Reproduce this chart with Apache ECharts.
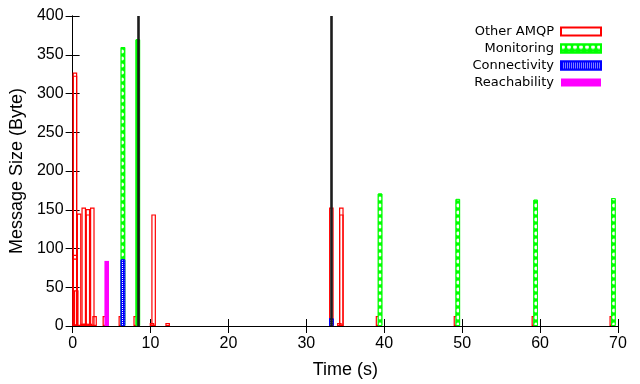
<!DOCTYPE html>
<html><head><meta charset="utf-8">
<script src="https://cdn.jsdelivr.net/npm/echarts@6/dist/echarts.min.js"></script>
<style>html,body{margin:0;padding:0;background:#fff}#c{width:640px;height:384px}</style>
</head><body><div id="c"></div>
<script>
// ---- data (time in s, size in bytes) ----
const seriesNames = ['Other AMQP', 'Monitoring', 'Connectivity', 'Reachability'];
const amqpTime = [0.3, 0.3, 0.3, 0.3, 0.47, 0.83, 1.3, 1.43, 1.65, 1.96, 1.96, 2.2, 2.53, 2.82, 4.14, 6.19, 8.1, 10.19, 10.4, 12.2, 33.21, 34.24, 34.49, 34.49, 39.2, 49.2, 59.2, 69.2];
const amqpSize = [327, 323, 92, 87, 46, 145, 3, 153, 3, 151, 144, 3, 153, 13, 13, 13, 13, 4, 144, 4, 153, 4, 153, 144, 13, 13, 13, 13];
const monitoringTime = [6.46, 8.37, 39.46, 49.44, 59.43, 69.41];
const monitoringSize = [360, 370, 171, 164, 163, 165];
const connectivityTime = [6.46, 33.21];
const connectivitySize = [86, 10];
const reachabilityTime = [4.38];
const reachabilitySize = [84];
const eventTimes = [8.45, 33.19];
const xRange = [0, 70], xStep = 10;
const yRange = [0, 400], yStep = 50;
const xTitle = 'Time (s)';
const yTitle = 'Message Size (Byte)';

const pairs = (t, v) => t.map((x, i) => [x, v[i]]);
const AXIS_FONT = 'Liberation Sans';
const KEY_FONT = 'DejaVu Sans';
const BW = 4.6;

const chart = echarts.init(document.getElementById('c'), null, {renderer: 'canvas'});
const axisCommon = {
  axisLine: {show: true, lineStyle: {color: '#000', width: 1}},
  axisTick: {show: true, inside: true, length: 7, lineStyle: {color: '#000', width: 1}},
  splitLine: {show: false}
};
chart.setOption({
  animation: false,
  backgroundColor: '#fff',
  grid: {left: 70, right: 22, top: 16, bottom: 53, containLabel: false},
  legend: {
    data: seriesNames,
    orient: 'vertical',
    right: 38, top: 25,
    align: 'right',
    padding: 0,
    itemGap: 4,
    itemWidth: 40, itemHeight: 8,
    icon: 'rect',
    textStyle: {fontFamily: KEY_FONT, fontSize: 13, color: '#000', padding: [0, 2, 0, 0]}
  },
  xAxis: [
    Object.assign({type: 'value', min: xRange[0], max: xRange[1], interval: xStep, position: 'bottom',
      axisLabel: {fontFamily: AXIS_FONT, fontSize: 16, color: '#000', margin: 10},
      name: xTitle, nameLocation: 'middle', nameGap: 35,
      nameTextStyle: {fontFamily: AXIS_FONT, fontSize: 18, color: '#000'}}, axisCommon),
    Object.assign({type: 'value', min: xRange[0], max: xRange[1], interval: xStep, position: 'top',
      axisLabel: {show: false}}, axisCommon)
  ],
  yAxis: [
    Object.assign({type: 'value', min: yRange[0], max: yRange[1], interval: yStep, position: 'left',
      axisLabel: {fontFamily: AXIS_FONT, fontSize: 16, color: '#000', margin: 9},
      name: yTitle, nameLocation: 'middle', nameGap: 41, nameRotate: 90,
      nameTextStyle: {fontFamily: AXIS_FONT, fontSize: 18, color: '#000'}}, axisCommon),
    Object.assign({type: 'value', min: yRange[0], max: yRange[1], interval: yStep, position: 'right',
      axisLabel: {show: false}}, axisCommon)
  ],
  series: [
    {name: 'Other AMQP', type: 'bar', barWidth: BW, barGap: '-100%', data: pairs(amqpTime, amqpSize),
      itemStyle: {color: 'rgba(255,255,255,0)', borderColor: '#ff0000', borderWidth: 1.2}},
    {name: 'Monitoring', type: 'bar', barWidth: BW, barGap: '-100%', data: pairs(monitoringTime, monitoringSize),
      itemStyle: {color: '#00ff00', borderColor: '#00ff00', borderWidth: 1,
        decal: {symbol: 'circle', color: '#ffffff', symbolSize: 1, dashArrayX: [[4, 2]], dashArrayY: [5, 2], rotation: 0}}},
    {name: 'Connectivity', type: 'bar', barWidth: BW, barGap: '-100%', data: pairs(connectivityTime, connectivitySize),
      itemStyle: {color: '#0000ff', borderColor: '#0000ff', borderWidth: 1,
        decal: {symbol: 'rect', color: '#ffffff', symbolSize: 1, dashArrayX: [[1, 1]], dashArrayY: [1, 1], rotation: 0}}},
    {name: 'Reachability', type: 'bar', barWidth: BW, barGap: '-100%', data: pairs(reachabilityTime, reachabilitySize),
      itemStyle: {color: '#ff00ff'}},
    {name: 'events', type: 'line', data: [], silent: true,
      markLine: {silent: true, symbol: ['none', 'none'], label: {show: false},
        lineStyle: {color: '#1c1c1c', width: 2.6, type: 'solid'},
        data: eventTimes.map(t => ({xAxis: t}))}}
  ]
});
</script></body></html>
